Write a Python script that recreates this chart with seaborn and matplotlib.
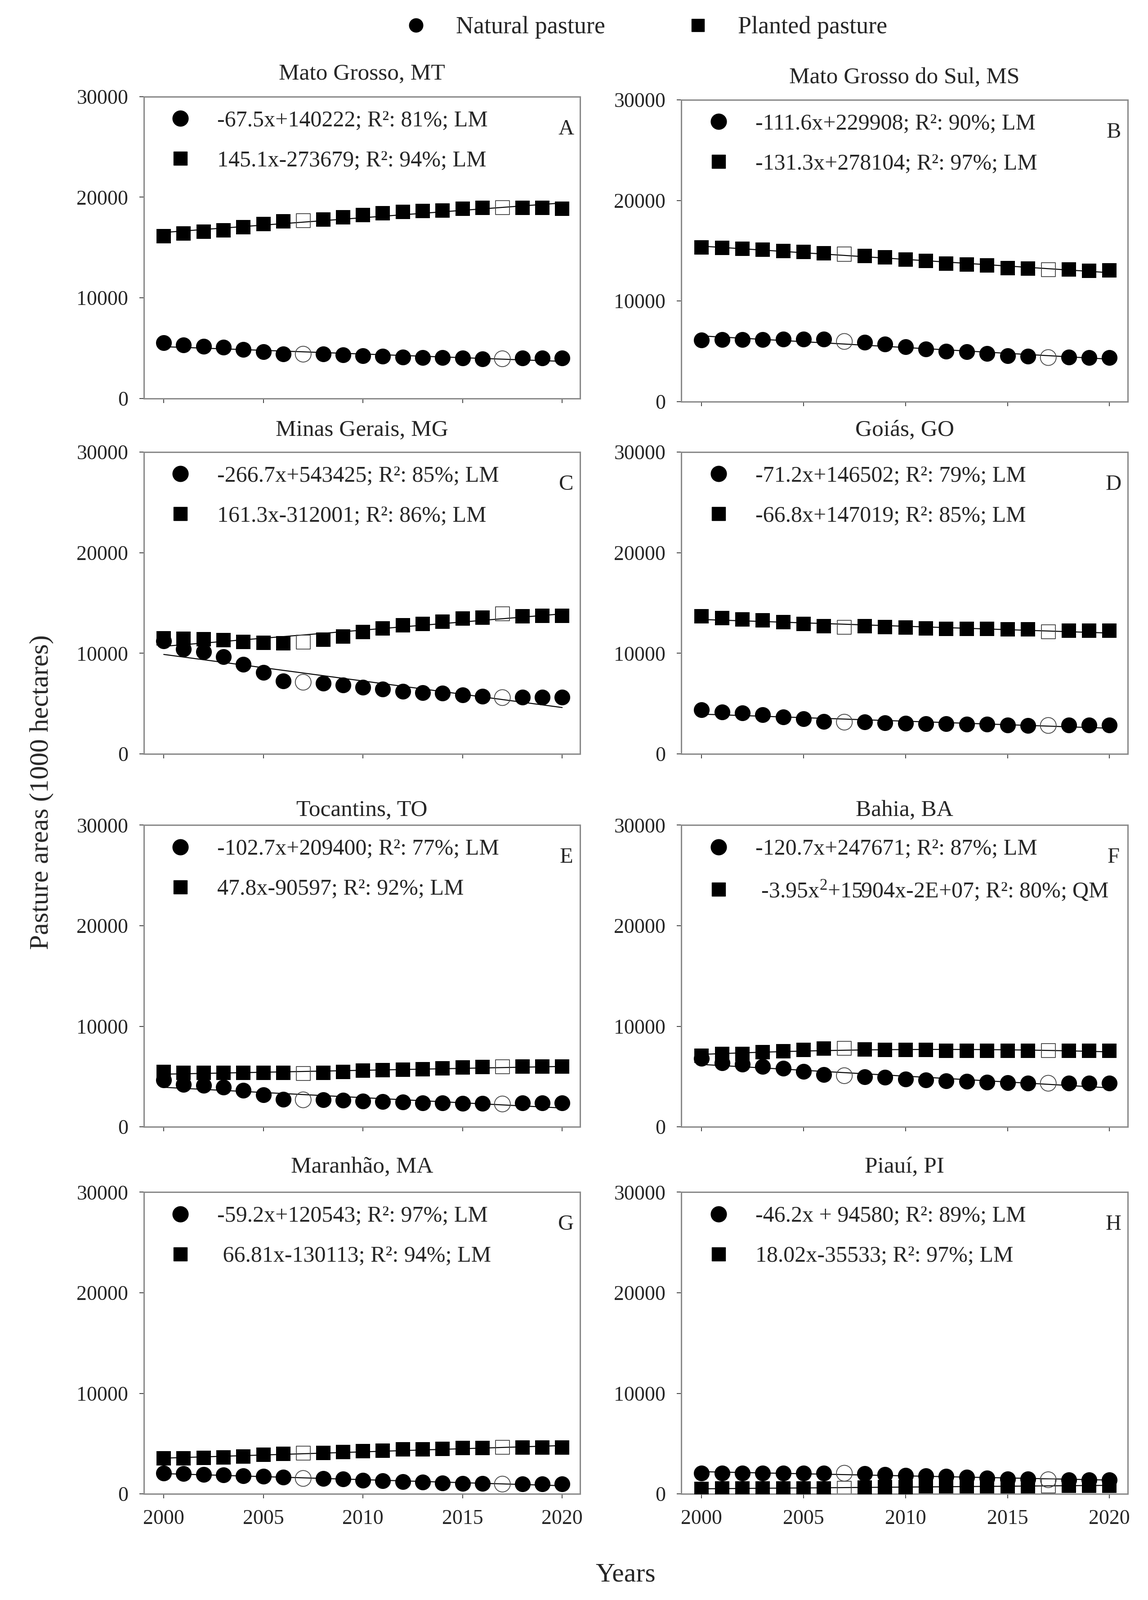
import numpy as np
import pandas as pd
import matplotlib
matplotlib.use('Agg')
import matplotlib.pyplot as plt
import seaborn as sns
from matplotlib.lines import Line2D

# Data (1000 hectares)
years = list(range(2000, 2021))
open_years = [2007, 2017]

natural_mt = [5540, 5310, 5190, 5080, 4850, 4620, 4400, 4400, 4400, 4330, 4240,
              4170, 4100, 4050, 4050, 4010, 3940, 3940, 4010, 4010, 4010]
planted_mt = [16130, 16400, 16580, 16700, 17040, 17330, 17610, 17680, 17770, 18020, 18220,
              18400, 18560, 18630, 18680, 18860, 18930, 18970, 18930, 18930, 18860]

natural_ms = [6100, 6150, 6170, 6180, 6190, 6200, 6210, 5980, 5910, 5710, 5460,
              5230, 5020, 4950, 4790, 4570, 4500, 4380, 4430, 4380, 4380]
planted_ms = [15340, 15270, 15180, 15110, 14950, 14890, 14770, 14660, 14500, 14360, 14130,
              13970, 13740, 13630, 13560, 13290, 13220, 13130, 13130, 13010, 13060]

natural_mg = [11230, 10430, 10140, 9680, 8880, 8090, 7240, 7130, 7020, 6860, 6630,
              6450, 6220, 6100, 6040, 5880, 5720, 5600, 5650, 5650, 5650]
planted_mg = [11500, 11450, 11400, 11300, 11120, 11050, 11000, 11120, 11340, 11690, 12100,
              12480, 12780, 12940, 13170, 13460, 13550, 13920, 13690, 13740, 13740]

natural_go = [4380, 4160, 4050, 3890, 3670, 3490, 3230, 3160, 3160, 3090, 3040,
              3000, 3000, 2940, 2940, 2870, 2830, 2830, 2870, 2870, 2870]
planted_go = [13680, 13500, 13390, 13280, 13100, 12940, 12720, 12600, 12720, 12600, 12560,
              12490, 12420, 12420, 12420, 12370, 12370, 12150, 12260, 12260, 12260]

natural_to = [4680, 4220, 4110, 3930, 3610, 3200, 2740, 2690, 2690, 2630, 2560,
              2510, 2470, 2400, 2400, 2350, 2330, 2280, 2400, 2400, 2400]
planted_to = [5480, 5370, 5370, 5370, 5370, 5370, 5370, 5300, 5370, 5480, 5590,
              5660, 5710, 5750, 5820, 5890, 5940, 5980, 5980, 5980, 5980]

natural_ba = [6800, 6350, 6210, 5980, 5820, 5530, 5210, 5090, 4980, 4910, 4750,
              4680, 4570, 4520, 4450, 4380, 4340, 4340, 4340, 4340, 4340]
planted_ba = [7080, 7260, 7260, 7420, 7530, 7650, 7810, 7810, 7720, 7650, 7650,
              7650, 7580, 7580, 7580, 7580, 7580, 7580, 7580, 7580, 7580]

natural_ma = [2060, 2010, 1930, 1880, 1800, 1750, 1670, 1540, 1540, 1490, 1360,
              1290, 1230, 1160, 1100, 1030, 1030, 980, 980, 980, 980]
planted_ma = [3550, 3550, 3600, 3650, 3730, 3910, 3980, 4060, 4060, 4160, 4240,
              4320, 4420, 4420, 4500, 4580, 4580, 4630, 4630, 4630, 4630]

natural_pi = [2060, 2060, 2060, 2060, 2060, 2060, 2060, 2060, 2010, 1930, 1850,
              1800, 1750, 1670, 1590, 1490, 1490, 1410, 1410, 1410, 1410]
planted_pi = [510, 560, 560, 560, 560, 560, 560, 560, 640, 690, 690,
              770, 770, 770, 770, 770, 770, 770, 820, 820, 820]

states = ['Mato Grosso, MT', 'Mato Grosso do Sul, MS', 'Minas Gerais, MG', 'Goiás, GO',
          'Tocantins, TO', 'Bahia, BA', 'Maranhão, MA', 'Piauí, PI']
letters = ['A', 'B', 'C', 'D', 'E', 'F', 'G', 'H']
natural_series = [natural_mt, natural_ms, natural_mg, natural_go,
                  natural_to, natural_ba, natural_ma, natural_pi]
planted_series = [planted_mt, planted_ms, planted_mg, planted_go,
                  planted_to, planted_ba, planted_ma, planted_pi]
natural_eq = ['-67.5x+140222; R²: 81%; LM', '-111.6x+229908; R²: 90%; LM',
              '-266.7x+543425; R²: 85%; LM', '-71.2x+146502; R²: 79%; LM',
              '-102.7x+209400; R²: 77%; LM', '-120.7x+247671; R²: 87%; LM',
              '-59.2x+120543; R²: 97%; LM', '-46.2x + 94580; R²: 89%; LM']
planted_eq = ['145.1x-273679; R²: 94%; LM', '-131.3x+278104; R²: 97%; LM',
              '161.3x-312001; R²: 86%; LM', '-66.8x+147019; R²: 85%; LM',
              '47.8x-90597; R²: 92%; LM', ' -3.95x$^{2}$+15904x-2E+07; R²: 80%; QM',
              ' 66.81x-130113; R²: 94%; LM', '18.02x-35533; R²: 97%; LM']
planted_order = [1, 1, 1, 1, 1, 2, 1, 1]

# Style
sns.set_style('ticks')
plt.rcParams['font.family'] = ['Liberation Serif', 'DejaVu Serif']
plt.rcParams['mathtext.fontset'] = 'custom'
plt.rcParams['mathtext.rm'] = 'Liberation Serif'
plt.rcParams['mathtext.it'] = 'Liberation Serif'
plt.rcParams['mathtext.default'] = 'rm'

fig = plt.figure(figsize=(25.53, 35.57), dpi=100)

col_left = [0.1253, 0.5934]
col_width = [0.380, 0.389]
row_bottom = [0.7510, 0.5288, 0.2957, 0.0663]
title_pad = [27, 26, 15, 31]
ax_height = 0.1886
spine_color = '#8a8a8a'

for i in range(8):
    r, c = divmod(i, 2)
    bottom = row_bottom[r] - (0.002 if (r == 0 and c == 1) else 0)
    ax = fig.add_axes([col_left[c], bottom, col_width[c], ax_height])

    df = pd.DataFrame({'year': years + years,
                       'area': natural_series[i] + planted_series[i],
                       'type': ['Natural'] * len(years) + ['Planted'] * len(years)})
    df['open'] = df['year'].isin(open_years)

    # Fitted curves
    for kind, order in [('Planted', planted_order[i]), ('Natural', 1)]:
        sub = df[df['type'] == kind]
        sns.regplot(data=sub, x='year', y='area', scatter=False, ci=None, order=order,
                    truncate=True, line_kws={'color': 'black', 'lw': 1.6, 'zorder': 1}, ax=ax)

    # Points
    for kind, marker, size in [('Planted', 's', 500), ('Natural', 'o', 640)]:
        sub = df[df['type'] == kind]
        sns.scatterplot(data=sub[~sub['open']], x='year', y='area', marker=marker, s=size,
                        color='black', edgecolor='black', linewidth=0, zorder=3, ax=ax)
        sns.scatterplot(data=sub[sub['open']], x='year', y='area', marker=marker, s=size,
                        color='black', edgecolor='#444444', linewidth=1.3, zorder=2, ax=ax)
        ax.collections[-1].set_facecolor('none')

    ax.set_xlim(1999.0, 2020.9)
    ax.set_ylim(0, 30000)
    ax.set_xticks([2000, 2005, 2010, 2015, 2020])
    ax.set_yticks([0, 10000, 20000, 30000])
    ax.set_xlabel('')
    ax.set_ylabel('')
    if r < 3:
        ax.set_xticklabels([])
    ax.tick_params(axis='both', direction='out', length=7, width=1.4, color='#444444',
                   labelsize=33)
    ax.tick_params(axis='y', pad=18)
    ax.tick_params(axis='x', pad=18)
    for sp in ax.spines.values():
        sp.set_visible(True)
        sp.set_color(spine_color)
        sp.set_linewidth(2.2)

    ax.set_title(states[i], fontsize=37, pad=title_pad[r])
    ax.text(0.968, 0.893, letters[i], transform=ax.transAxes, ha='center', va='center',
            fontsize=35)

    handles = [Line2D([], [], marker='o', ls='none', color='black', markersize=25),
               Line2D([], [], marker='s', ls='none', color='black', markersize=22)]
    ax.legend(handles, [natural_eq[i], planted_eq[i]], loc='upper left',
              bbox_to_anchor=(0.063, 0.955), frameon=False, fontsize=36,
              handlelength=0.8, handletextpad=1.24, labelspacing=0.85,
              borderpad=0, borderaxespad=0)

# Top legend
top_handles = [Line2D([], [], marker='o', ls='none', color='black', markersize=22),
               Line2D([], [], marker='s', ls='none', color='black', markersize=20)]
fig.legend(top_handles, ['Natural pasture', 'Planted pasture'], loc='upper left',
           bbox_to_anchor=((925 - 22) / 2553, 1 - 36 / 3557), ncol=2, frameon=False,
           fontsize=39, handlelength=0.8, handletextpad=1.25, columnspacing=3.4,
           borderpad=0, borderaxespad=0)

fig.text(0.036, 0.505, 'Pasture areas (1000 hectares)', rotation=90, ha='center',
         va='center', fontsize=43)
fig.text(0.545, 0.0155, 'Years', ha='center', va='center', fontsize=43)

fig.savefig('out.png', dpi=100, facecolor='white')
